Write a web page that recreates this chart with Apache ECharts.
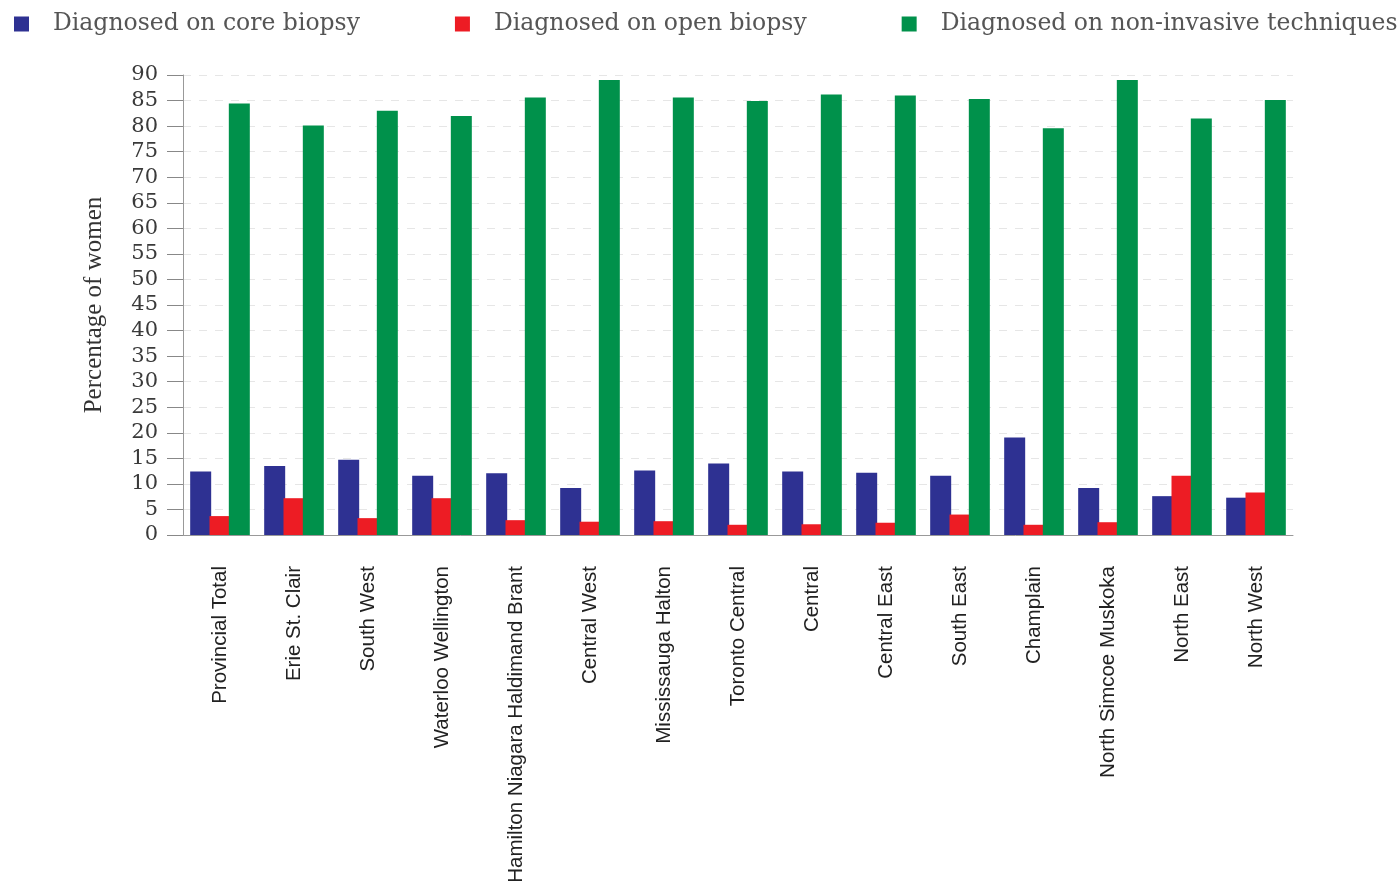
<!DOCTYPE html>
<html><head><meta charset="utf-8">
<script src="https://cdn.jsdelivr.net/npm/echarts@6/dist/echarts.min.js"></script>
<style>html,body{margin:0;padding:0;background:#fff}#c{width:1399px;height:894px}</style>
</head><body><div id="c"></div>
<script>
const categories = ["Provincial Total","Erie St. Clair","South West","Waterloo Wellington","Hamilton Niagara Haldimand Brant","Central West","Mississauga Halton","Toronto Central","Central","Central East","South East","Champlain","North Simcoe Muskoka","North East","North West"];
const coreBiopsy = [12.4,13.5,14.7,11.6,12.1,9.2,12.6,14.0,12.4,12.2,11.6,19.1,9.2,7.6,7.3];
const openBiopsy = [3.7,7.2,3.3,7.2,2.9,2.6,2.7,2.0,2.1,2.4,4.0,2.0,2.5,11.6,8.3];
const nonInvasive = [84.4,80.1,83.0,82.0,85.6,89.0,85.6,84.9,86.2,86.0,85.3,79.6,89.0,81.5,85.1];
const seriesNames = ["Diagnosed on core biopsy","Diagnosed on open biopsy","Diagnosed on non-invasive techniques"];
const yTicks = {min:0,max:90,interval:5};

const colors = ['#2e3192','#ed1c24','#00914b'];
const chart = echarts.init(document.getElementById('c'));
const mk = (name, data, i) => ({
  name, type:'bar', data, barWidth:21, barGap:'-8%',
  itemStyle:{color:colors[i]}, z: 2+i
});
chart.setOption({
  animation:false,
  color:colors,
  legend:{
    top:7, left:9, width:1390, itemWidth:15, itemHeight:15, itemGap:95, icon:'rect',
    textStyle:{fontFamily:'DejaVu Serif', fontSize:23.5, color:'#555', padding:[0,0,0,19]},
    data:seriesNames
  },
  grid:{left:183, right:106, top:75, bottom:359, containLabel:false},
  xAxis:{
    type:'category', data:categories,
    axisLine:{lineStyle:{color:'#999', width:1}},
    axisTick:{alignWithLabel:true, length:12, lineStyle:{color:'#888'}},
    axisLabel:{rotate:90, interval:0, margin:31, fontFamily:'Liberation Sans', fontSize:20.5, color:'#222'}
  },
  yAxis:{
    type:'value', min:yTicks.min, max:yTicks.max, interval:yTicks.interval,
    name:'Percentage of women', nameLocation:'middle', nameGap:76, nameRotate:90,
    nameTextStyle:{fontFamily:'Liberation Serif', fontSize:25, color:'#333'},
    axisLine:{show:true, lineStyle:{color:'#999'}},
    axisTick:{show:true, length:16, lineStyle:{color:'#888'}},
    axisLabel:{fontFamily:'DejaVu Serif', fontSize:21, color:'#3a3a3a', margin:25},
    splitLine:{show:true, lineStyle:{color:'#e6e6e6', type:[8,8]}}
  },
  series:[mk(seriesNames[0],coreBiopsy,0), mk(seriesNames[1],openBiopsy,1), mk(seriesNames[2],nonInvasive,2)]
});
</script></body></html>
